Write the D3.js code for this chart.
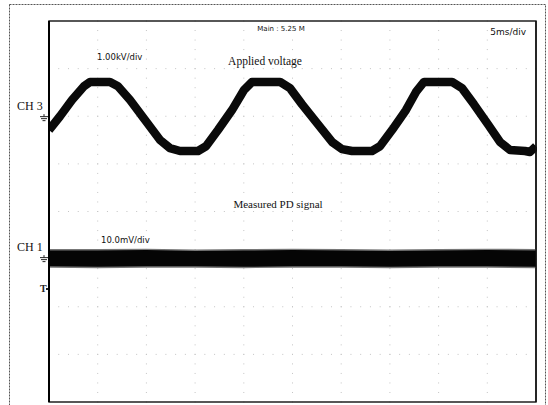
<!DOCTYPE html>
<html>
<head>
<meta charset="utf-8">
<script src="https://cdn.jsdelivr.net/npm/d3@7"></script>
<style>
  html, body { margin: 0; padding: 0; background: #fff; }
  svg { display: block; }
</style>
</head>
<body>
<svg id="chart" width="548" height="405"></svg>
<script>
// Oscilloscope capture: CH3 applied voltage and CH1 partial-discharge signal.

// Time base: 5 ms/div over 10 divisions
const timeTicks = [0, 5, 10, 15, 20, 25, 30, 35, 40, 45, 50];
const divTicks = [-4, -3, -2, -1, 0, 1, 2, 3, 4];

// CH3 applied voltage trace (time in ms, voltage in kV, 1.00 kV/div)
const ch3Time = [0.0, 1.13, 2.36, 3.59, 4.21, 6.26, 7.08, 8.32, 9.86, 11.40, 12.42, 13.45, 15.30,
  16.12, 17.35, 18.79, 20.02, 20.84, 23.72, 24.74, 25.98, 27.62, 29.06, 30.08, 31.11, 33.16,
  33.98, 35.22, 36.65, 37.68, 38.50, 41.38, 42.40, 43.63, 45.07, 46.30, 47.33, 48.87, 49.38, 50.0];
const ch3Volt = [-0.25, 0.04, 0.38, 0.67, 0.76, 0.76, 0.67, 0.38, -0.04, -0.46, -0.63, -0.69, -0.69,
  -0.59, -0.25, 0.17, 0.59, 0.76, 0.76, 0.63, 0.29, -0.13, -0.50, -0.65, -0.69, -0.69,
  -0.59, -0.25, 0.17, 0.55, 0.76, 0.76, 0.63, 0.29, -0.13, -0.50, -0.67, -0.69, -0.71, -0.59];

// CH1 measured PD signal envelope (time in ms, mV, 10.0 mV/div)
const pdTime  = [0, 5, 10, 15, 20, 25, 30, 35, 40, 45, 50];
const pdUpper = [1.8, 1.8, 1.9, 1.7, 1.8, 1.9, 1.8, 1.7, 1.8, 1.9, 1.8];
const pdLower = [-1.5, -1.6, -1.5, -1.5, -1.6, -1.5, -1.5, -1.6, -1.5, -1.5, -1.6];

// Channel settings
const ch3Offset = 1.96;  // divisions above screen centre
const ch3Scale = 1.0;    // kV per division
const ch1Offset = -1.0;
const ch1Scale = 10.0;   // mV per division

const svg = d3.select("#chart");
const frame = { left: 49, right: 536, top: 21, bottom: 402 };

const x = d3.scaleLinear().domain([0, 50]).range([frame.left, frame.right]);
const y = d3.scaleLinear().domain([-4, 4]).range([frame.bottom, frame.top]);

// Outer dashed page border
svg.append("rect")
  .attr("x", 9.5).attr("y", 4.5).attr("width", 536).attr("height", 410)
  .attr("fill", "none").attr("stroke", "#555").attr("stroke-width", 1)
  .attr("stroke-dasharray", "2,1");

// Graticule dots: 5 subdivisions along each division line
const gridG = svg.append("g").attr("fill", "#c4c4c4");
const subT = d3.range(0, 50.001, 1);
const subV = d3.range(-4, 4.001, 0.2);
timeTicks.slice(1, -1).forEach(t => {
  subV.forEach(v => gridG.append("rect")
    .attr("x", x(t) - 0.5).attr("y", y(v) - 0.5).attr("width", 1).attr("height", 1));
});
divTicks.slice(1, -1).forEach(v => {
  subT.forEach(t => gridG.append("rect")
    .attr("x", x(t) - 0.5).attr("y", y(v) - 0.5).attr("width", 1).attr("height", 1));
});

// Screen frame
svg.append("rect")
  .attr("x", frame.left).attr("y", frame.top)
  .attr("width", frame.right - frame.left).attr("height", frame.bottom - frame.top)
  .attr("fill", "none").attr("stroke", "#111").attr("stroke-width", 1.4);

// CH1 PD signal band
const pdData = pdTime.map((t, i) => ({ t, hi: pdUpper[i], lo: pdLower[i] }));
const pdY = mv => y(ch1Offset + mv / ch1Scale);
svg.append("path")
  .datum(pdData)
  .attr("fill", "#777")
  .attr("d", d3.area().x(d => x(d.t)).y0(d => pdY(d.lo - 0.3)).y1(d => pdY(d.hi + 0.3)));
svg.append("path")
  .datum(pdData)
  .attr("fill", "#050505")
  .attr("d", d3.area().x(d => x(d.t)).y0(d => pdY(d.lo)).y1(d => pdY(d.hi)));

// CH3 voltage trace
const ch3Data = ch3Time.map((t, i) => ({ t, v: ch3Volt[i] }));
const ch3Line = d3.line()
  .x(d => x(d.t))
  .y(d => y(ch3Offset + d.v / ch3Scale))
  .curve(d3.curveLinear);
svg.append("path")
  .datum(ch3Data)
  .attr("fill", "none").attr("stroke", "#0a0a0a")
  .attr("stroke-width", 8.5).attr("stroke-linejoin", "round")
  .attr("d", ch3Line);

// Clip trace overdraw on both edges
svg.append("rect").attr("x", 10).attr("y", 22).attr("width", frame.left - 11).attr("height", 380).attr("fill", "#fff");
svg.append("rect").attr("x", frame.right + 1).attr("y", 22).attr("width", 8).attr("height", 380).attr("fill", "#fff");
svg.append("line")
  .attr("x1", frame.left).attr("x2", frame.left)
  .attr("y1", frame.top).attr("y2", frame.bottom)
  .attr("stroke", "#000").attr("stroke-width", 2);
svg.append("line")
  .attr("x1", frame.right).attr("x2", frame.right)
  .attr("y1", frame.top).attr("y2", frame.bottom)
  .attr("stroke", "#111").attr("stroke-width", 1.4);

// Screen annotations
const sans = "DejaVu Sans, Verdana, sans-serif";
const serif = "Liberation Serif, Times New Roman, serif";

svg.append("text").attr("x", 281).attr("y", 31).attr("text-anchor", "middle")
  .attr("font-family", sans).attr("font-size", 7).attr("fill", "#111").text("Main : 5.25 M");
svg.append("text").attr("x", 526).attr("y", 35).attr("text-anchor", "end")
  .attr("font-family", sans).attr("font-size", 9).attr("fill", "#111").text("5ms/div");
svg.append("text").attr("x", 97).attr("y", 60)
  .attr("font-family", sans).attr("font-size", 8.5).attr("fill", "#111").text("1.00kV/div");
svg.append("text").attr("x", 265).attr("y", 65).attr("text-anchor", "middle")
  .attr("font-family", serif).attr("font-size", 11.5).attr("fill", "#111").text("Applied voltage");
svg.append("text").attr("x", 278).attr("y", 208).attr("text-anchor", "middle")
  .attr("font-family", serif).attr("font-size", 11).attr("fill", "#111").text("Measured PD signal");
svg.append("text").attr("x", 101).attr("y", 243)
  .attr("font-family", sans).attr("font-size", 8.5).attr("fill", "#111").text("10.0mV/div");

// Channel labels with ground markers
function channelMarker(label, offset) {
  const gy = y(offset);
  svg.append("text").attr("x", 17).attr("y", gy - 8)
    .attr("font-family", serif).attr("font-size", 12).attr("fill", "#111").text(label);
  const g = svg.append("g").attr("stroke", "#222").attr("stroke-width", 1);
  g.append("line").attr("x1", 40).attr("x2", 48).attr("y1", gy - 1.5).attr("y2", gy - 1.5);
  g.append("line").attr("x1", 41).attr("x2", 47).attr("y1", gy + 0.5).attr("y2", gy + 0.5);
  g.append("line").attr("x1", 42.5).attr("x2", 45.5).attr("y1", gy + 2.5).attr("y2", gy + 2.5);
  g.append("line").attr("x1", 44).attr("x2", 44).attr("y1", gy - 4).attr("y2", gy - 1.5);
}
channelMarker("CH 3", ch3Offset);
channelMarker("CH 1", ch1Offset);

// Trigger level marker
svg.append("text").attr("x", 40).attr("y", 292)
  .attr("font-family", serif).attr("font-size", 10).attr("font-weight", "bold").attr("fill", "#222").text("T");
svg.append("rect").attr("x", 46).attr("y", 288).attr("width", 2).attr("height", 2).attr("fill", "#222");
</script>
</body>
</html>
